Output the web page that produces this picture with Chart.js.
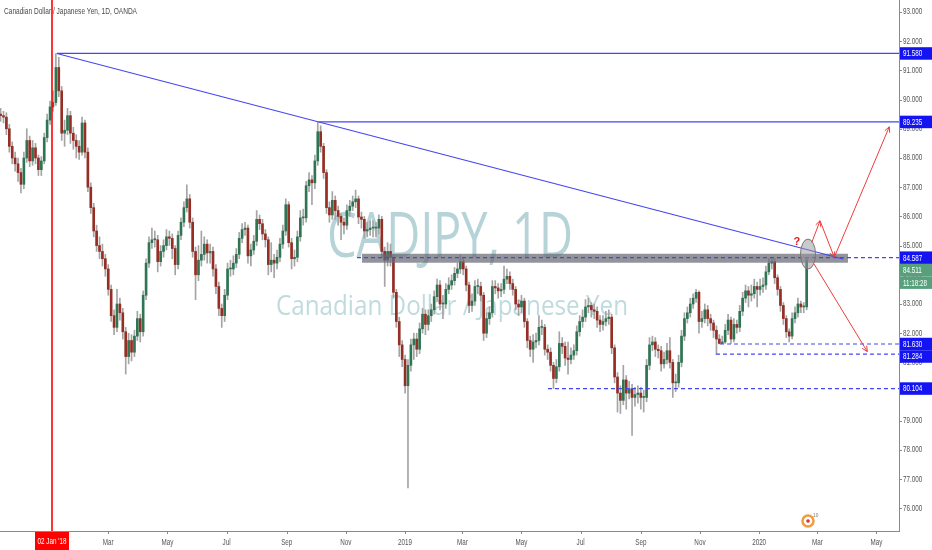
<!DOCTYPE html>
<html><head><meta charset="utf-8">
<script src="https://cdn.jsdelivr.net/npm/chart.js@4.4.1/dist/chart.umd.min.js"></script>
<style>html,body{margin:0;padding:0;background:#fff;}#wrap{width:932px;height:550px;position:relative;}</style>
</head><body><div id="wrap"><canvas id="c"></canvas></div>
<script>
const chartTitle = 'Canadian Dollar / Japanese Yen, 1D, OANDA';
const watermarkSymbol = 'CADJPY, 1D';
const watermarkName = 'Canadian Dollar / Japanese Yen';

// time axis: days counted from 02 Jan 2018 (day 0)
const firstCandleDay = -53;
const candleStepDays = 3;

const opens = [
89.5,89.45,89.4,89.0,88.4,88.0,87.8,87.5,87.1,88.0,
88.6,87.9,88.35,88.0,87.6,87.9,88.7,89.3,89.75,89.9,
91.1,90.3,88.85,88.95,89.45,88.85,88.6,88.4,88.2,89.2,
88.2,87.0,86.3,85.5,85.0,84.8,84.55,84.2,83.5,82.6,
82.2,83.0,82.7,82.05,81.2,81.75,81.35,81.9,82.5,82.05,
83.3,84.4,85.1,85.2,85.2,84.45,84.8,85.0,85.3,85.25,
84.9,84.35,85.35,85.8,86.3,86.6,85.8,84.8,84.0,84.5,
84.7,85.05,84.75,84.8,84.2,83.6,82.85,82.6,83.3,84.2,
84.2,84.4,84.7,85.25,85.55,85.6,84.65,84.85,85.15,85.9,
85.75,85.4,85.2,84.35,84.5,84.4,84.6,85.05,85.5,86.4,
85.1,84.55,84.6,85.3,85.95,85.95,87.05,87.25,87.15,87.9,
88.9,88.4,87.5,86.3,86.05,86.55,86.2,86.0,85.8,85.7,
86.2,86.35,86.5,86.6,85.98,85.9,85.5,85.55,85.6,85.6,
85.6,85.9,84.8,84.5,84.8,84.6,83.4,82.4,81.6,81.1,
80.2,80.9,81.6,81.8,81.45,82.15,82.65,82.3,82.6,82.8,
83.25,83.65,83.0,83.0,83.5,83.65,83.8,84.05,84.2,84.45,
84.2,83.65,82.95,83.1,83.6,83.6,83.3,82.0,82.5,82.7,
83.6,83.55,83.45,83.5,83.85,83.95,83.7,83.5,83.0,82.9,
83.1,82.4,81.75,81.45,81.7,81.75,82.2,82.2,81.45,81.35,
80.9,80.45,80.85,81.65,81.55,81.15,81.1,81.25,81.4,82.05,
82.4,82.55,82.9,82.95,82.8,82.75,82.45,82.3,82.4,82.5,
82.55,81.5,80.5,79.95,79.7,80.4,79.95,80.1,79.8,79.9,
79.95,79.8,79.8,80.9,81.6,81.7,81.45,81.4,80.95,81.1,
81.4,81.0,80.3,80.3,81.0,81.9,82.5,82.7,83.0,83.2,
83.4,82.4,82.5,82.8,82.5,82.35,82.1,81.8,81.65,81.7,
82.1,82.45,81.8,82.3,82.2,82.75,83.2,83.45,83.3,83.35,
83.6,83.5,83.6,83.65,84.1,84.4,84.45,83.9,83.5,82.95,
82.5,82.05,81.9,82.5,82.7,83.0,82.9,82.9
];
const highs = [
89.7,89.6,89.55,89.15,88.55,88.2,88.0,87.65,88.2,89.0,
88.75,88.6,88.5,88.1,88.05,88.85,89.5,89.95,90.3,91.58,
91.45,90.45,89.3,89.7,89.6,89.05,88.8,88.6,89.4,89.3,
88.35,87.15,86.45,85.7,85.3,85.05,84.7,84.35,83.65,82.8,
83.5,83.2,82.85,82.2,82.0,81.95,82.1,82.75,82.65,83.45,
84.55,85.3,85.6,85.5,85.35,85.0,85.2,85.55,85.5,85.4,
85.0,85.5,85.95,86.5,87.08,86.75,85.95,84.95,85.0,85.5,
85.3,85.2,85.05,84.95,84.35,83.75,83.0,83.5,84.4,84.5,
84.65,84.9,85.45,85.75,85.8,85.7,85.05,85.35,86.2,86.05,
85.9,85.55,85.3,85.1,84.7,84.85,85.25,85.7,86.6,86.5,
85.25,84.85,85.5,86.2,86.25,87.2,87.5,87.4,88.1,89.235,
89.1,88.5,87.6,86.5,86.85,86.7,86.35,86.1,85.95,86.4,
86.55,86.7,86.9,86.7,86.15,86.0,85.8,85.85,85.85,85.8,
86.05,86.0,84.95,85.1,85.05,84.7,83.5,82.55,81.75,81.25,
81.1,81.8,82.0,82.0,82.35,82.85,82.8,82.8,83.0,83.45,
83.85,83.8,83.3,83.7,83.9,84.0,84.25,84.4,84.68,84.6,
84.3,83.75,83.35,83.8,83.85,83.75,83.4,82.7,82.9,83.8,
83.8,83.7,83.7,84.3,84.2,84.1,83.85,83.6,83.15,83.3,
83.2,82.5,81.9,81.95,82.0,82.6,82.45,82.3,81.6,81.5,
81.0,81.1,82.05,81.85,81.7,81.7,81.5,81.6,82.25,82.6,
82.8,83.15,83.2,83.05,83.0,82.9,82.6,82.6,82.75,82.8,
82.65,81.6,80.65,80.2,80.9,80.55,80.35,80.25,80.15,80.2,
80.15,80.05,81.1,81.85,81.9,81.85,81.6,81.55,81.35,81.65,
81.85,81.1,80.6,81.25,82.1,82.7,82.9,83.2,83.35,83.5,
83.45,82.75,83.0,82.95,82.65,82.45,82.25,81.95,81.9,82.3,
82.65,82.55,82.5,82.45,82.95,83.4,83.65,83.6,83.65,83.85,
83.75,83.85,83.9,84.3,84.55,84.6,84.55,84.0,83.6,83.05,
82.6,82.15,82.7,82.9,83.2,83.1,83.05,84.6
];
const lows = [
89.25,89.2,88.8,88.2,87.8,87.55,87.2,86.8,86.95,87.85,
87.7,87.75,87.8,87.4,87.4,87.8,88.55,89.15,89.6,89.8,
90.1,88.6,88.4,88.8,88.5,88.3,88.0,87.95,88.1,88.0,
86.85,86.1,85.3,84.8,84.55,84.3,83.95,83.3,82.4,81.95,
82.05,82.45,81.8,80.6,80.95,81.05,81.2,81.75,81.7,81.9,
83.15,84.25,84.9,84.95,84.1,84.3,84.6,84.85,85.0,84.55,
84.0,84.2,85.2,85.65,86.15,85.6,84.6,83.15,83.8,84.3,
84.5,84.4,84.4,83.95,83.35,82.6,82.2,82.4,83.15,83.95,
84.0,84.25,84.55,85.1,85.35,84.4,84.3,84.7,85.0,85.55,
85.2,84.95,84.0,84.1,83.9,84.2,84.45,84.9,85.35,84.95,
84.2,84.3,84.45,85.15,85.7,85.8,86.85,86.4,86.95,87.75,
88.2,87.3,86.1,85.8,85.9,85.9,85.7,85.2,85.4,85.55,
86.0,86.2,86.3,85.75,85.6,85.25,85.3,85.35,85.3,85.3,
85.4,84.6,83.6,84.3,84.3,83.2,82.2,81.2,80.85,79.95,
76.7,80.7,81.1,81.2,81.3,82.0,81.95,82.1,82.4,82.65,
83.1,82.8,82.5,82.85,83.35,83.5,83.65,83.9,84.05,84.0,
83.45,82.7,82.75,82.95,83.35,83.1,81.75,81.85,82.3,82.55,
83.35,83.2,83.25,83.35,83.7,83.5,83.3,82.8,82.6,82.7,
82.2,81.5,81.2,81.0,81.5,81.6,81.95,81.25,81.1,80.7,
80.104,80.3,80.7,81.3,80.9,80.6,80.95,81.1,81.25,81.9,
82.2,82.4,82.7,82.55,82.5,82.2,82.05,82.1,82.25,82.3,
81.3,80.3,79.3,79.25,79.55,79.4,79.75,78.5,79.5,79.6,
79.4,79.3,79.65,80.75,81.4,81.2,81.15,80.7,80.8,80.95,
80.8,79.8,80.0,80.15,80.85,81.75,82.35,82.55,82.85,83.05,
82.0,82.2,82.35,82.25,82.1,81.85,81.284,81.63,81.65,81.65,
81.95,81.65,81.7,82.0,82.05,82.6,83.05,82.9,83.1,83.2,
82.9,83.3,83.4,83.5,84.0,84.2,83.7,83.3,82.75,82.3,
81.85,81.7,81.8,82.35,82.55,82.7,82.7,82.8
];
const closes = [
89.45,89.4,89.0,88.4,88.0,87.8,87.5,87.1,88.0,88.6,
87.9,88.35,88.0,87.6,87.9,88.7,89.3,89.75,89.9,91.1,
90.3,88.85,88.95,89.45,88.85,88.6,88.4,88.2,89.2,88.2,
87.0,86.3,85.5,85.0,84.8,84.55,84.2,83.5,82.6,82.2,
83.0,82.7,82.05,81.2,81.75,81.35,81.9,82.5,82.05,83.3,
84.4,85.1,85.2,85.2,84.45,84.8,85.0,85.3,85.25,84.9,
84.35,85.35,85.8,86.3,86.6,85.8,84.8,84.0,84.5,84.7,
85.05,84.75,84.8,84.2,83.6,82.85,82.6,83.3,84.2,84.2,
84.4,84.7,85.25,85.55,85.6,84.65,84.85,85.15,85.9,85.75,
85.4,85.2,84.35,84.5,84.4,84.6,85.05,85.5,86.4,85.1,
84.55,84.6,85.3,85.95,85.95,87.05,87.25,87.15,87.9,88.9,
88.4,87.5,86.3,86.05,86.55,86.2,86.0,85.8,85.7,86.2,
86.35,86.5,86.6,85.98,85.9,85.5,85.55,85.6,85.6,85.6,
85.9,84.8,84.5,84.8,84.6,83.4,82.4,81.6,81.1,80.2,
80.9,81.6,81.8,81.45,82.15,82.65,82.3,82.6,82.8,83.25,
83.65,83.0,83.0,83.5,83.65,83.8,84.05,84.2,84.45,84.2,
83.65,82.95,83.1,83.6,83.6,83.3,82.0,82.5,82.7,83.6,
83.55,83.45,83.5,83.85,83.95,83.7,83.5,83.0,82.9,83.1,
82.4,81.75,81.45,81.7,81.75,82.2,82.2,81.45,81.35,80.9,
80.45,80.85,81.65,81.55,81.15,81.1,81.25,81.4,82.05,82.4,
82.55,82.9,82.95,82.8,82.75,82.45,82.3,82.4,82.5,82.55,
81.5,80.5,79.95,79.7,80.4,79.95,80.1,79.8,79.9,79.95,
79.8,79.8,80.9,81.6,81.7,81.45,81.4,80.95,81.1,81.4,
81.0,80.3,80.3,81.0,81.9,82.5,82.7,83.0,83.2,83.4,
82.4,82.5,82.8,82.5,82.35,82.1,81.8,81.65,81.7,82.1,
82.45,81.8,82.3,82.2,82.75,83.2,83.45,83.3,83.35,83.6,
83.5,83.6,83.65,84.1,84.4,84.45,83.9,83.5,82.95,82.5,
82.05,81.9,82.5,82.7,83.0,82.9,82.9,84.511
];

const priceTicks = [76,77,78,79,80,81,82,83,84,85,86,87,88,89,90,91,92,93];
const timeTickDays = [58,119,180,242,303,364,423,484,545,607,668,729,789,850];
const timeTickLabels = ['Mar','May','Jul','Sep','Nov','2019','Mar','May','Jul','Sep','Nov','2020','Mar','May'];
const markerDay = 0;
const markerLabel = "02 Jan '18";

const levelPrices = [91.58, 89.235, 84.587, 81.63, 81.284, 80.104];
const levelStartDays = [5, 275, 314.4, 688.7, 684.5, 511.3];
const levelDashed = [false, false, true, true, true, true];

const trendDays = [5, 815.5];
const trendPrices = [91.58, 84.54];
const zoneDays = [319.6, 820.6];
const zonePrice = 84.57;
const projUpDays = [783.2, 791.8, 806.5, 863.2];
const projUpPrices = [85.10, 85.85, 84.60, 89.07];
const projDownDays = [785.6, 840.5];
const projDownPrices = [84.37, 81.37];
const circleDay = 779.4, circlePrice = 84.71;
const questionDay = 768, questionPrice = 85.12;
const lastPrice = 84.511;
const countdown = '11:18:28';

const X_MIN = -53.6, X_MAX = 873.2, Y_MIN = 75.226, Y_MAX = 93.411;
const UP = '#2f7453', DOWN = '#952e24', WICK = '#a4a4a4';
const LINE = '#4646f0', LABELBG = '#1414f2', RED = '#f03c3c';

const candleDays = closes.map((_, i) => firstCandleDay + i * candleStepDays);
const wickData = candleDays.map((d, i) => ({x: d, y: [lows[i], highs[i]]}));
const bodyData = candleDays.map((d, i) => ({x: d, y: [opens[i], closes[i]]}));
const bodyColors = closes.map((c, i) => c >= opens[i] ? UP : DOWN);

const datasets = [];
levelPrices.forEach((p, k) => {
  datasets.push({type:'line', data:[{x:levelStartDays[k], y:p},{x:X_MAX, y:p}], borderColor:LINE,
    borderWidth: levelDashed[k] ? 1.2 : 1.3,
    borderDash: levelDashed[k] ? [4,3] : [], pointRadius:0, order:0});
});
datasets.push({type:'line', data:[{x:trendDays[0], y:trendPrices[0]},{x:trendDays[1], y:trendPrices[1]}], borderColor:LINE, borderWidth:1.1, pointRadius:0, order:0});
datasets.push({type:'line', data:projUpDays.map((d,i)=>({x:d, y:projUpPrices[i]})), borderColor:RED, borderWidth:1, pointRadius:0, order:0});
datasets.push({type:'line', data:projDownDays.map((d,i)=>({x:d, y:projDownPrices[i]})), borderColor:RED, borderWidth:1, pointRadius:0, order:0});
datasets.push({type:'line', data:[{x:markerDay, y:Y_MIN},{x:markerDay, y:Y_MAX}], borderColor:'#ff0000', borderWidth:1.6, pointRadius:0, order:0});
datasets.push({type:'line', data:[{x:zoneDays[0], y:zonePrice},{x:zoneDays[1], y:zonePrice}], borderColor:'rgba(105,105,115,0.72)', borderWidth:9, borderCapStyle:'butt', pointRadius:0, order:0.5});
datasets.push({type:'bar', data:bodyData, backgroundColor:bodyColors, barThickness:2, minBarLength:1, grouped:false, order:1});
datasets.push({type:'bar', data:wickData, backgroundColor:WICK, barThickness:1, grouped:false, order:2});

function txt(ctx, s, x, y, size, color, align, sx, family, weight, baseline) {
  ctx.save();
  ctx.font = (weight || '') + ' ' + size + 'px ' + (family || '"Liberation Sans"');
  ctx.fillStyle = color;
  ctx.textBaseline = baseline || 'middle';
  ctx.textAlign = align || 'left';
  ctx.translate(x, y);
  ctx.scale(sx, 1);
  ctx.fillText(s, 0, 0);
  ctx.restore();
}
function fitTxt(ctx, s, left, baseline, size, width, color, family) {
  ctx.save();
  ctx.font = size + 'px ' + family;
  const w = ctx.measureText(s).width;
  ctx.restore();
  txt(ctx, s, left, baseline, size, color, 'left', width / w, family, '', 'alphabetic');
}
function arrowHead(ctx, x1, y1, x2, y2) {
  const a = Math.atan2(y2 - y1, x2 - x1), L = 6;
  ctx.beginPath();
  ctx.moveTo(x2 - L*Math.cos(a-0.45), y2 - L*Math.sin(a-0.45));
  ctx.lineTo(x2, y2);
  ctx.lineTo(x2 - L*Math.cos(a+0.45), y2 - L*Math.sin(a+0.45));
  ctx.stroke();
}

const overlay = {
  id:'overlay',
  beforeDatasetsDraw(chart) {
    const ctx = chart.ctx;
    fitTxt(ctx, watermarkSymbol, 327, 257, 63, 246, '#b6d3d8', '"Open Sans"');
    fitTxt(ctx, watermarkName, 276, 315, 28, 352, '#c0dbde', '"Open Sans"');
    fitTxt(ctx, chartTitle, 4, 14, 9, 133, '#4a4a4a', '"Liberation Sans"');
  },
  afterDatasetsDraw(chart) {
    const ctx = chart.ctx, xs = chart.scales.x, ys = chart.scales.y;
    const px = d => xs.getPixelForValue(d), py = p => ys.getPixelForValue(p);
    ctx.save();
    ctx.strokeStyle = RED; ctx.lineWidth = 1;
    for (let i = 1; i < projUpDays.length; i++) {
      arrowHead(ctx, px(projUpDays[i-1]), py(projUpPrices[i-1]), px(projUpDays[i]), py(projUpPrices[i]));
    }
    arrowHead(ctx, px(projDownDays[0]), py(projDownPrices[0]), px(projDownDays[1]), py(projDownPrices[1]));
    ctx.beginPath();
    ctx.ellipse(px(circleDay), py(circlePrice), 7.5, 15, 0, 0, Math.PI*2);
    ctx.fillStyle = 'rgba(150,150,155,0.5)'; ctx.fill();
    ctx.strokeStyle = '#777'; ctx.stroke();
    ctx.restore();
    txt(ctx, '?', px(questionDay), py(questionPrice), 11, '#e31b1b', 'center', 1, '"Liberation Sans"', 'bold');
    ctx.save();
    ctx.beginPath(); ctx.arc(808, 521, 5.5, 0, Math.PI*2);
    ctx.strokeStyle = '#f39a3c'; ctx.lineWidth = 2.5; ctx.stroke();
    ctx.beginPath(); ctx.arc(808, 521, 1.8, 0, Math.PI*2); ctx.fillStyle = '#e0302a'; ctx.fill();
    ctx.restore();
    txt(ctx, '10', 813, 515, 6, '#777', 'left', 0.8);
  },
  afterDraw(chart) {
    const ctx = chart.ctx, xs = chart.scales.x, ys = chart.scales.y, area = chart.chartArea;
    const px = d => xs.getPixelForValue(d), py = p => ys.getPixelForValue(p);
    const SX = 0.74;
    ctx.save();
    ctx.strokeStyle = '#8a8a8a'; ctx.lineWidth = 1;
    priceTicks.forEach(p => {
      const y = Math.round(py(p)) + 0.5;
      ctx.beginPath(); ctx.moveTo(area.right, y); ctx.lineTo(area.right + 3, y); ctx.stroke();
    });
    timeTickDays.forEach(d => {
      const x = Math.round(px(d)) + 0.5;
      ctx.beginPath(); ctx.moveTo(x, area.bottom); ctx.lineTo(x, area.bottom + 3); ctx.stroke();
    });
    ctx.restore();
    priceTicks.forEach(p => txt(ctx, p.toFixed(3), area.right + 4, py(p), 8.5, '#555', 'left', SX));
    timeTickDays.forEach((d, i) => txt(ctx, timeTickLabels[i], px(d), area.bottom + 11.5, 8.5, '#555', 'center', SX));
    const mx = px(markerDay);
    ctx.fillStyle = '#ff0000';
    ctx.fillRect(mx - 17, area.bottom + 1, 34, 19);
    txt(ctx, markerLabel, mx, area.bottom + 10.5, 8.5, '#fff', 'center', SX);
    const labels = [];
    levelPrices.forEach(p => labels.push({y: py(p), text: p.toFixed(3), bg: LABELBG}));
    labels.push({y: py(lastPrice), text: lastPrice.toFixed(3), bg: '#58a07c', attach: countdown});
    labels.sort((a, b) => a.y - b.y);
    let prevBottom = -1e9;
    const H = 12.5;
    labels.forEach(l => {
      let y = Math.max(l.y, prevBottom + H / 2);
      ctx.fillStyle = l.bg;
      ctx.fillRect(area.right + 1, y - H/2, 932 - area.right, H);
      txt(ctx, l.text, area.right + 4, y + 0.5, 8.5, '#fff', 'left', SX);
      prevBottom = y + H/2;
      if (l.attach) {
        const y2 = prevBottom + H/2;
        ctx.fillStyle = l.bg;
        ctx.fillRect(area.right + 1, y2 - H/2, 932 - area.right, H);
        txt(ctx, l.attach, area.right + 4, y2 + 0.5, 8.5, '#fff', 'left', SX);
        prevBottom = y2 + H/2;
      }
    });
  }
};

new Chart(document.getElementById('c'), {
  type: 'bar',
  data: { datasets },
  options: {
    responsive: true, maintainAspectRatio: false, animation: false, events: [],
    layout: { padding: 0 },
    plugins: { legend: {display:false}, tooltip: {enabled:false} },
    scales: {
      x: { type:'linear', min:X_MIN, max:X_MAX, offset:false, grid:{display:false},
           border:{display:true, color:'#8a8a8a'}, ticks:{display:false},
           afterFit(s){ s.height = 19; } },
      y: { type:'linear', position:'right', min:Y_MIN, max:Y_MAX, grid:{display:false},
           border:{display:true, color:'#8a8a8a'}, ticks:{display:false, stepSize:1},
           afterFit(s){ s.width = 33; } }
    }
  },
  plugins: [overlay]
});
</script>
</body></html>
